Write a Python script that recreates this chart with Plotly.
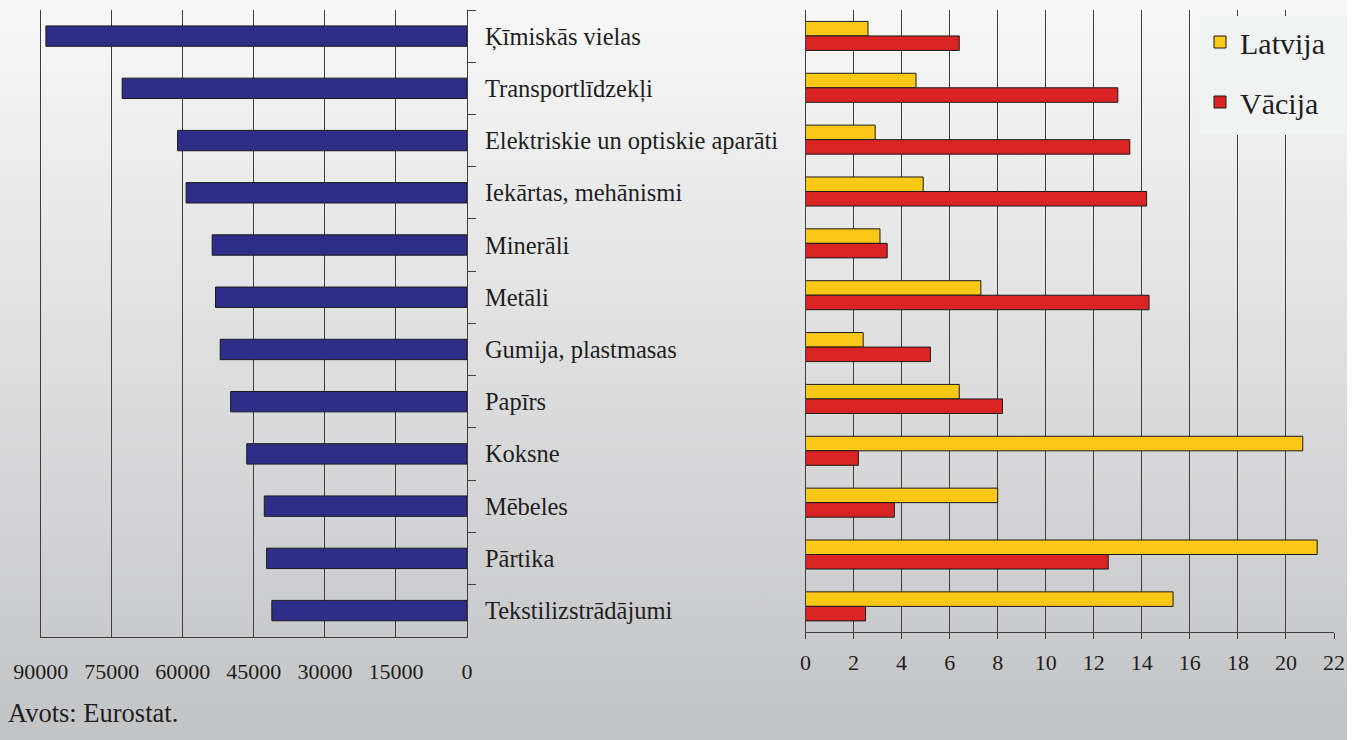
import base64
import plotly.graph_objects as go

# ---------------- data ----------------
categories = [
    "Ķīmiskās vielas",
    "Transportlīdzekļi",
    "Elektriskie un optiskie aparāti",
    "Iekārtas, mehānismi",
    "Minerāli",
    "Metāli",
    "Gumija, plastmasas",
    "Papīrs",
    "Koksne",
    "Mēbeles",
    "Pārtika",
    "Tekstilizstrādājumi",
]
left_values = [88900, 72800, 61100, 59300, 53800, 53100, 52100, 49900, 46500, 42800, 42300, 41200]
latvija = [2.6, 4.6, 2.9, 4.9, 3.1, 7.3, 2.4, 6.4, 20.7, 8.0, 21.3, 15.3]
vacija = [6.4, 13.0, 13.5, 14.2, 3.4, 14.3, 5.2, 8.2, 2.2, 3.7, 12.6, 2.5]

left_tickvals = [90000, 75000, 60000, 45000, 30000, 15000, 0]
left_ticktext = ["90000", "75000", "60000", "45000", "30000", "15000", "0"]
right_tickvals = [0, 2, 4, 6, 8, 10, 12, 14, 16, 18, 20, 22]
right_ticktext = [str(v) for v in right_tickvals]

source_text = "Avots: Eurostat."

# ---------------- style ----------------
W, H = 1360, 740
FONT = "Liberation Serif, Times New Roman, serif"
TXT = "#1e1e1e"
GRID = "#3e3e3e"
NAVY = "#2e2d88"
YELLOW = "#fbc816"
RED = "#d92423"
EDGE = "#1a1a1a"
LEGEND_BG = "#f1f2f2"

def px_x(p):
    return p / W

def px_y(p):
    return 1 - p / H

svg = (
    '<svg xmlns="http://www.w3.org/2000/svg" width="100" height="100" preserveAspectRatio="none">'
    '<defs><linearGradient id="g" x1="0" y1="0" x2="0" y2="1">'
    '<stop offset="0" stop-color="#f8f8f8"/><stop offset="1" stop-color="#c2c3c5"/>'
    '</linearGradient></defs><rect width="100" height="100" fill="url(#g)"/></svg>'
)
bg_src = "data:image/svg+xml;base64," + base64.b64encode(svg.encode()).decode()

fig = go.Figure()

fig.add_trace(go.Bar(
    y=categories, x=left_values, orientation="h",
    xaxis="x", yaxis="y", width=0.39,
    marker=dict(color=NAVY, line=dict(color=EDGE, width=1)),
    showlegend=False, name="",
))
fig.add_trace(go.Bar(
    y=categories, x=latvija, orientation="h", name="Latvija",
    xaxis="x2", yaxis="y2", legendgroup="a",
    marker=dict(color=YELLOW, line=dict(color=EDGE, width=1)),
))
fig.add_trace(go.Bar(
    y=categories, x=vacija, orientation="h", name="Vācija",
    xaxis="x2", yaxis="y2", legendgroup="b",
    marker=dict(color=RED, line=dict(color=EDGE, width=1)),
))

axis_font = dict(family=FONT, size=22, color=TXT)

fig.update_layout(
    width=W, height=H,
    margin=dict(l=0, r=0, t=0, b=0, pad=0, autoexpand=False),
    paper_bgcolor="white",
    plot_bgcolor="rgba(0,0,0,0)",
    font=dict(family=FONT, color=TXT, size=22),
    barmode="group", bargap=0.44, bargroupgap=0,
    images=[dict(
        source=bg_src, xref="paper", yref="paper",
        x=0, y=1, sizex=1347 / W, sizey=1,
        xanchor="left", yanchor="top", sizing="stretch", layer="below",
    )],
    shapes=[dict(
        type="rect", xref="paper", yref="paper", layer="above",
        x0=px_x(1200), x1=px_x(1347), y0=px_y(135), y1=px_y(16),
        fillcolor=LEGEND_BG, line=dict(width=0),
    )],
    xaxis=dict(
        domain=[px_x(40.7), px_x(467)], anchor="y",
        range=[90000, 0], tickvals=left_tickvals, ticktext=left_ticktext,
        showgrid=True, gridcolor=GRID, gridwidth=1,
        showline=True, linecolor=GRID, linewidth=1,
        ticks="", zeroline=False, tickfont=axis_font, ticklabelstandoff=15,
        fixedrange=True, automargin=False,
    ),
    yaxis=dict(
        domain=[px_y(636.7), px_y(10)], anchor="x",
        side="right", autorange="reversed", type="category",
        showline=True, mirror=True, linecolor=GRID, linewidth=1,
        ticks="outside", tickson="boundaries", ticklen=8, tickcolor=GRID,
        showgrid=False, tickfont=dict(family=FONT, size=24.5, color=TXT),
        ticklabelstandoff=12, fixedrange=True, automargin=False,
    ),
    xaxis2=dict(
        domain=[px_x(805.5), px_x(1334)], anchor="y2",
        range=[0, 22], tickvals=right_tickvals, ticktext=right_ticktext,
        showgrid=True, gridcolor=GRID, gridwidth=1,
        showline=True, linecolor=GRID, linewidth=1,
        ticks="outside", ticklen=6, tickcolor=GRID,
        zeroline=False, tickfont=axis_font, ticklabelstandoff=4,
        fixedrange=True, automargin=False,
    ),
    yaxis2=dict(
        domain=[px_y(632.3), px_y(10)], anchor="x2",
        autorange="reversed", type="category",
        showline=True, linecolor=GRID, linewidth=1,
        ticks="", showticklabels=False, showgrid=False, fixedrange=True,
        automargin=False,
    ),
    legend=dict(
        x=px_x(1200), y=px_y(16), xanchor="left", yanchor="top",
        bgcolor=LEGEND_BG, borderwidth=0,
        font=dict(family=FONT, size=30, color=TXT),
        traceorder="grouped", tracegroupgap=18,
    ),
    annotations=[dict(
        text=source_text, xref="paper", yref="paper",
        x=px_x(6), y=px_y(713), xanchor="left", yanchor="middle",
        showarrow=False, font=dict(family=FONT, size=26.5, color=TXT),
    )],
)

fig.write_html(
    "out.html",
    config={"displayModeBar": False},
    post_script="document.body.style.margin='0';",
)
